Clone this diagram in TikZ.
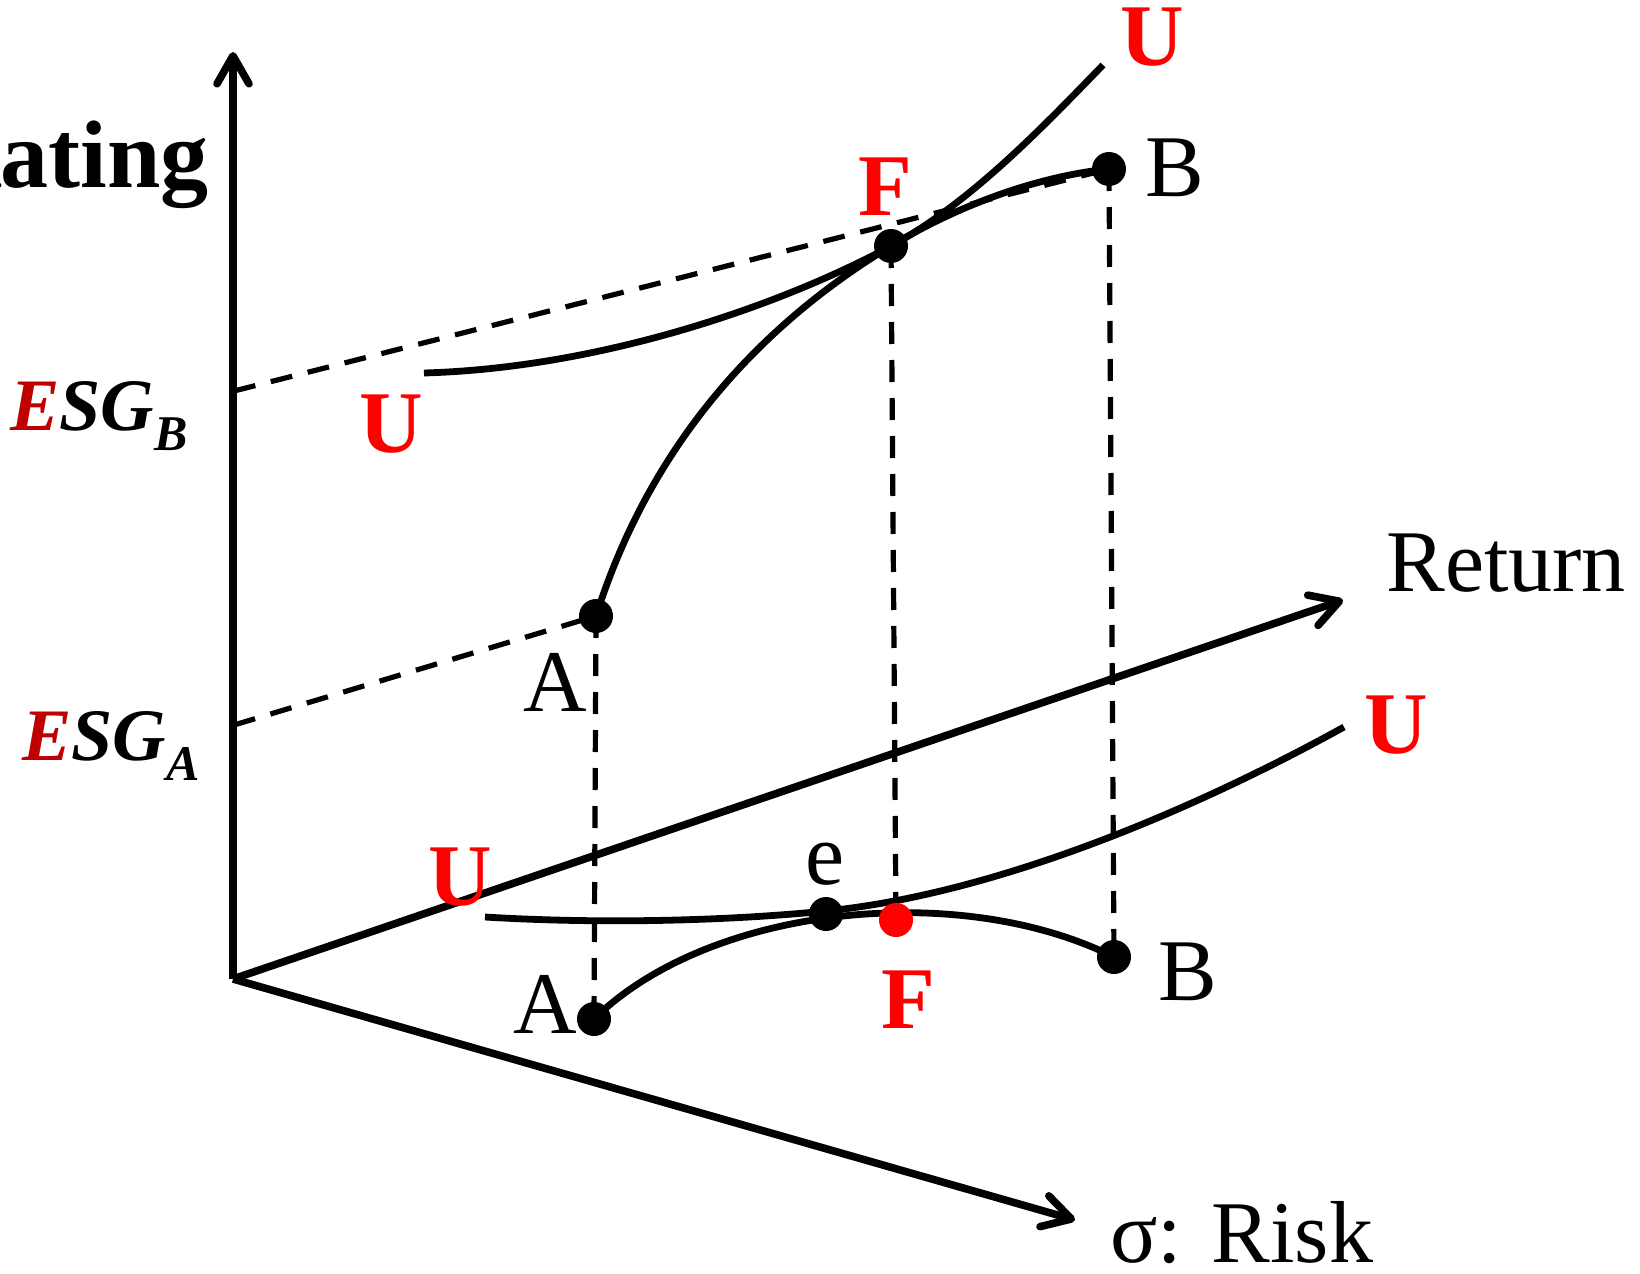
\documentclass[tikz,border=0pt]{standalone}
\usepackage{fontspec}
\setmainfont{Liberation Serif}
\usetikzlibrary{arrows.meta}
\definecolor{esgred}{RGB}{192,0,0}
\definecolor{ured}{RGB}{255,0,0}
\tikzset{
  axis/.style={line width=3.8pt,-{Straight Barb[length=14pt,width=16pt,round]}},
  curve/.style={line width=3.4pt},
  guide/.style={line width=2.6pt,dash pattern=on 11pt off 8pt},
  dot/.style={circle,fill,inner sep=0pt,minimum size=17pt},
  lbl/.style={inner sep=0pt,anchor=base west,font=\fontsize{44}{48}\selectfont},
  ulbl/.style={inner sep=0pt,anchor=base,text=ured,font=\fontsize{44}{48}\selectfont\bfseries},
  esg/.style={inner sep=0pt,anchor=base west,font=\fontsize{37}{42}\selectfont\bfseries\itshape},
}
\begin{document}
\begin{tikzpicture}[x=0.5pt,y=-0.5pt]
  \useasboundingbox (0,0) rectangle (1640,1274);
  \clip (0,0) rectangle (1640,1274);

  \coordinate (O) at (233,979);
  \coordinate (ytip) at (233,52);
  \coordinate (rettip) at (1343,600);
  \coordinate (risktip) at (1075,1220);
  \coordinate (esgB) at (234,391);
  \coordinate (esgA) at (234,725);
  \coordinate (A1) at (596,616);
  \coordinate (F1) at (891,246);
  \coordinate (B1) at (1109,169);
  \coordinate (A2) at (594,1019);
  \coordinate (E2) at (826,914);
  \coordinate (F2) at (896,920);
  \coordinate (B2) at (1114,957);
  \coordinate (U1a) at (424,373);
  \coordinate (U1b) at (1103,65);
  \coordinate (U2a) at (485,917);
  \coordinate (U2b) at (1344,727);

  \draw[axis] (O) -- (ytip);
  \draw[axis] (O) -- (rettip);
  \draw[axis] (O) -- (risktip);

  \draw[guide] (esgB) -- (B1);
  \draw[guide] (esgA) -- (A1);
  \foreach \p in {A,F,B}
    \draw[guide] (\p1) -- (\p2);

  \draw[curve] (A1) .. controls (655,430) and (775,316) .. (F1)
                    .. controls (960,204) and (1040,176) .. (B1);
  \draw[curve] (U1a) .. controls (600,368) and (780,306) .. (F1)
                     .. controls (970,203) and (1040,130) .. (U1b);
  \draw[curve] (A2) .. controls (710,905) and (960,880) .. (B2);
  \draw[curve] (U2a) .. controls (600,924) and (726,921) .. (826,911)
                     .. controls (996,894) and (1194,810) .. (U2b);

  \foreach \p in {A1,F1,B1,A2,E2,B2}
    \node[dot] (d\p) at (\p) {};
  \node[dot,fill=ured] (dF2) at (F2) {};

  \node[inner sep=0pt,anchor=base east,font=\fontsize{48}{52}\selectfont\bfseries] (rating) at (209,187) {Rating};
  \node[esg] (lesgB) at (10,430) {{\color{esgred}E}SG\raisebox{-10pt}{\fontsize{25}{28}\selectfont B}};
  \node[esg] (lesgA) at (22,760) {{\color{esgred}E}SG\raisebox{-10pt}{\fontsize{25}{28}\selectfont A}};

  \node[lbl] (lret) at (1386,591) {Return};
  \node[lbl] (lrisk) at (1110,1262) {σ: Risk};
  \node[lbl] (lB1) at (1145,196) {B};
  \node[lbl] (lA1) at (523,711) {A};
  \node[lbl] (le) at (805,884) {e};
  \node[lbl] (lA2) at (513,1033) {A};
  \node[lbl] (lB2) at (1158,1000) {B};

  \node[ulbl] (lU1) at (1152,65) {U};
  \node[ulbl] (lF1) at (885,215) {F};
  \node[ulbl] (lU2) at (391,452) {U};
  \node[ulbl] (lU3) at (1396,753) {U};
  \node[ulbl] (lU4) at (460,905) {U};
  \node[ulbl] (lF2) at (908,1028) {F};
\end{tikzpicture}
\end{document}
